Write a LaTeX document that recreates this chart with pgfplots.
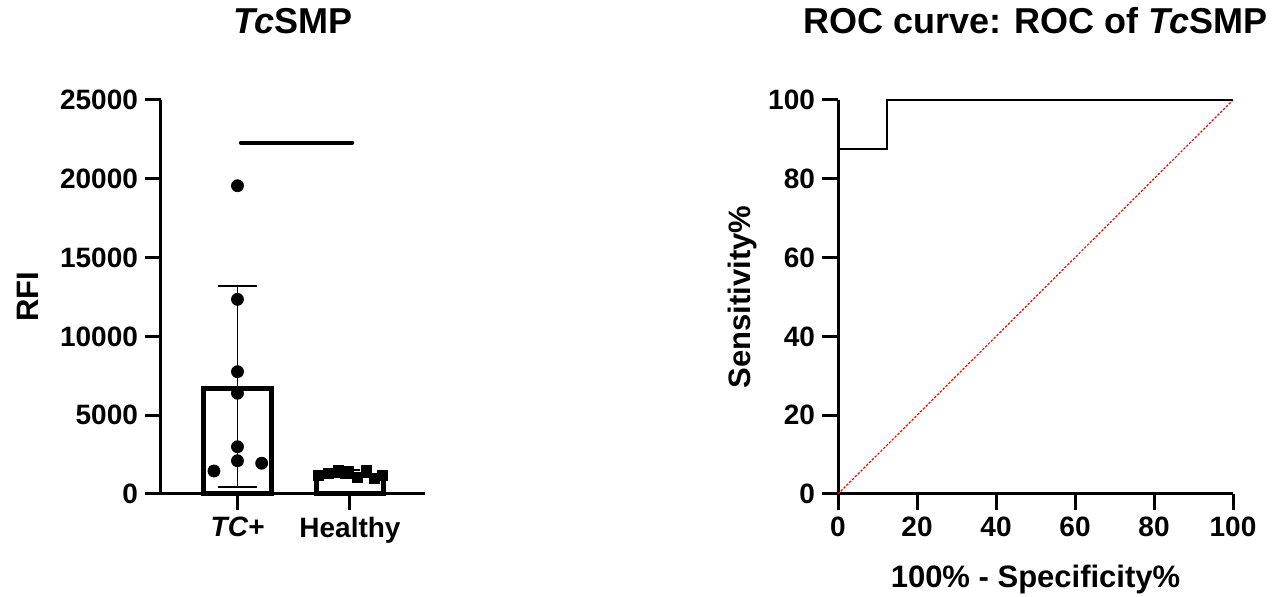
\documentclass[border=0pt]{standalone}
\usepackage{pgfplots}
\pgfplotsset{compat=1.18}
\usepackage{fontspec}
\setmainfont{Liberation Sans}
\begin{document}
\begin{tikzpicture}
\path[use as bounding box] (0pt,0pt) rectangle (637pt,298.5pt);
\pgfplotsset{
 every axis/.append style={
  scale only axis, clip=false,
  axis line style={-, line width=1.5pt},
  every tick/.style={black, line width=1.5pt},
  tick align=outside, major tick length=8pt,
  tick label style={font=\fontsize{14}{16}\selectfont\bfseries},
  /pgf/number format/assume math mode=true,
  /pgf/number format/set thousands separator={},
  scaled ticks=false,
  title style={font=\fontsize{18}{20}\selectfont\bfseries, anchor=base, at={(0.5,1)}, yshift=27pt},
  label style={font=\fontsize{15.5}{18}\selectfont\bfseries},
 }
}
\begin{axis}[at={(80.5pt,51.5pt)}, anchor=south west, width=132pt, height=197pt,
 axis x line*=bottom, axis y line*=left, xmin=0.32, xmax=2.667, ymin=0, ymax=25000,
 xtick={1,2}, xticklabels={{\itshape TC+}, Healthy}, ytick={0,5000,...,25000},
 ylabel={RFI}, ylabel style={at={(axis description cs:-0.504,0.5)}, anchor=center},
 title={{\itshape Tc}SMP}]
\addplot[ybar, bar width=0.6, bar shift=0pt, draw=black, fill=white, line width=2.5pt] coordinates {(1,6700) (2,1200)};
\addplot[draw=none, mark=none, error bars/.cd, y dir=both, y explicit, error mark=-, error bar style={line width=0.75pt, black}, error mark options={rotate=90, line width=0.75pt, mark size=9.75pt, black}] coordinates {(1,6820) +- (0,6380)};
\addplot[draw=none, mark=none, error bars/.cd, y dir=both, y explicit, error mark=-, error bar style={line width=0.75pt, black}, error mark options={rotate=90, line width=0.75pt, mark size=5pt, black}] coordinates {(2,1280) +- (0,250)};
\addplot[only marks, mark=*, mark size=3pt, black] coordinates {(1,19560)(1,12350)(1,7760)(1,6390)(1,3000)(1,2110)(0.791,1460)(1.215,1950)};
\addplot[only marks, mark=square*, mark size=2.5pt, black] coordinates {(1.716,1150)(1.804,1300)(1.893,1500)(1.982,1450)(2.062,1050)(2.142,1500)(2.213,1000)(2.284,1200)};
\addplot[black, line width=2pt, line cap=round] coordinates {(1.03,22300)(2.02,22300)};
\end{axis}
\begin{axis}[at={(419pt,51.5pt)}, anchor=south west, width=197.5pt, height=197pt,
 axis x line*=bottom, axis y line*=left, xmin=0, xmax=100, ymin=0, ymax=100,
 xtick={0,20,...,100}, ytick={0,20,...,100},
 xlabel={100\% - Specificity\%}, ylabel={Sensitivity\%},
 xlabel style={at={(axis description cs:0.5,-0.218)}, anchor=center},
 ylabel style={at={(axis description cs:-0.243,0.5)}, anchor=center},
 title={ROC curve: ROC of {\itshape Tc}SMP}]
\addplot[red, dash pattern=on 1.2pt off 0.8pt, line width=0.6pt] coordinates {(0,0)(100,100)};
\addplot[black, line width=1pt] coordinates {(0,87.5)(12.5,87.5)(12.5,100)(100,100)};
\end{axis}
\end{tikzpicture}
\end{document}
